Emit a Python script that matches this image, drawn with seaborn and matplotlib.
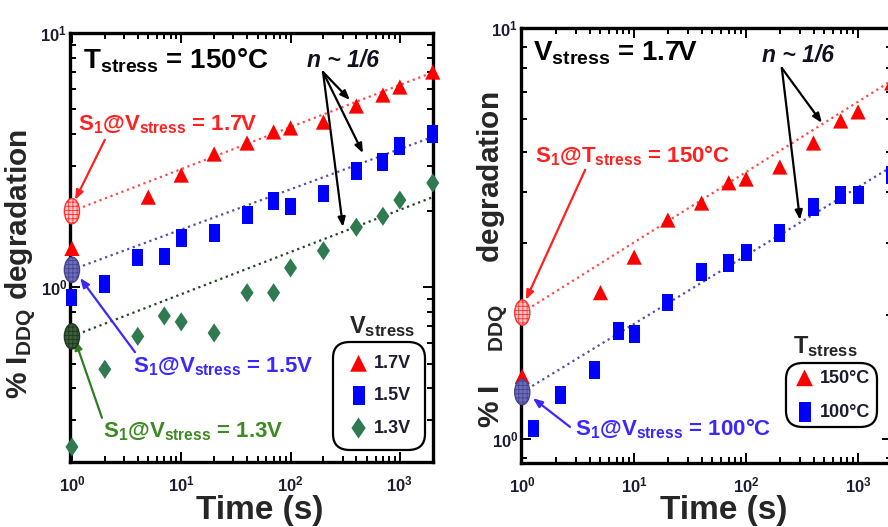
"""
plot.py

Two-panel log-log plot of % IDDQ degradation vs stress time, with n ~ 1/6
power-law fit lines for different stress voltages / temperatures.
"""

import pandas as pd
import matplotlib.pyplot as plt
import seaborn as sns
from matplotlib.path import Path
from matplotlib.transforms import Affine2D
from matplotlib.ticker import NullFormatter

# ---- left panel: T_stress = 150C ----
time_red_l = [1, 5, 10, 20, 40, 70, 100, 200, 400, 700, 1000, 2000]
deg_red_l = [1.42, 2.26, 2.76, 3.34, 3.69, 4.08, 4.23, 4.46, 5.16, 5.70, 6.13, 7.02]
time_sq_l = [1, 2, 4, 7, 10, 20, 40, 70, 100, 200, 400, 700, 1000, 2000]
deg_blue_l = [0.91, 1.03, 1.31, 1.32, 1.56, 1.63, 1.92, 2.18, 2.08, 2.34, 2.86, 3.10, 3.59, 4.00]
deg_green_l = [0.235, 0.475, 0.64, 0.77, 0.73, 0.66, 0.95, 0.95, 1.19, 1.39, 1.72, 1.90, 2.20, 2.57]
fit_time = [1, 2000]
fit_red_l = [1.99, 7.0]
fit_blue_l = [1.17, 3.9]
fit_green_l = [0.64, 2.26]
s1_left = [1.99, 1.17, 0.64]
labels_left = ["1.7V", "1.5V", "1.3V"]

# ---- right panel: V_stress = 1.7V ----
time_red_r = [1, 5, 10, 20, 40, 70, 100, 200, 400, 700, 1000, 2000]
deg_red_r = [1.42, 2.27, 2.77, 3.41, 3.75, 4.20, 4.29, 4.59, 5.25, 5.94, 6.25, 7.35]
time_blue_r = [1.25, 2.2, 4.4, 7.3, 10, 20, 40, 70, 100, 200, 400, 700, 1000, 2000]
deg_blue_r = [1.06, 1.28, 1.47, 1.83, 1.80, 2.15, 2.55, 2.68, 2.84, 3.17, 3.67, 3.92, 3.92, 4.39]
fit_red_r = [2.03, 7.45]
fit_blue_r = [1.30, 4.6]
s1_right = [2.03, 1.30]
labels_right = ["150°C", "100°C"]

x_ticks = [1, 10, 100, 1000]
x_ticklabels = [r"$10^{0}$", r"$10^{1}$", r"$10^{2}$", r"$10^{3}$"]
y_ticks = [1, 10]
y_ticklabels = [r"$10^{0}$", r"$10^{1}$"]

RED = "#ff0000"
BLUE = "#0000ff"
GREEN = "#2f7a50"

# custom marker shapes (tall rectangle, tall diamond, tall ellipse)
RECT = [(-0.62, -1), (0.62, -1), (0.62, 1), (-0.62, 1), (-0.62, -1)]
DIAMOND = [(0, 1), (0.68, 0), (0, -1), (-0.68, 0), (0, 1)]
ELLIPSE = Path.unit_circle().transformed(Affine2D().scale(0.6, 1.0))


# ====================
def style_axes(ax, xlim, ylim, ylabel):
    ax.set_xscale("log")
    ax.set_yscale("log")
    ax.set_xlim(*xlim)
    ax.set_ylim(*ylim)
    ax.set_xticks(x_ticks)
    ax.set_xticklabels(x_ticklabels)
    ax.set_yticks(y_ticks)
    ax.set_yticklabels(y_ticklabels)
    ax.xaxis.set_minor_formatter(NullFormatter())
    ax.yaxis.set_minor_formatter(NullFormatter())
    ax.tick_params(which="both", direction="in", top=True, right=True,
                   width=1.4, colors="black", labelcolor="#1c1c30",
                   labelsize=12)
    ax.tick_params(axis="x", which="major", pad=9)
    ax.tick_params(axis="y", which="major", pad=2)
    ax.tick_params(which="major", length=7)
    ax.tick_params(which="minor", length=4)
    for sp in ax.spines.values():
        sp.set_linewidth(2.4)
        sp.set_color("black")
    ax.set_xlabel("Time (s)", fontsize=24, fontweight="bold")
    ax.set_ylabel(ylabel, fontsize=21.5, fontweight="bold")


def fit_line(ax, y, color):
    sns.lineplot(x=fit_time, y=y, color=color, linestyle=":", lw=1.6,
                 ax=ax, legend=False, zorder=2)


def s1_marker(ax, y, face, edge):
    sns.scatterplot(x=[1] * len(y), y=y, marker=ELLIPSE, s=330,
                    facecolor=face, edgecolor=edge, linewidth=1.0,
                    hatch="++++", ax=ax, zorder=4, clip_on=False,
                    legend=False)


def points(ax, x, y, marker, color, s, label):
    sns.scatterplot(x=x, y=y, marker=marker, color=color, s=s,
                    edgecolor="none", ax=ax, zorder=3, clip_on=False,
                    label=label)


def arrow(ax, start, tip, color):
    ax.annotate("", xy=tip, xytext=start, xycoords="axes fraction",
                textcoords="axes fraction",
                arrowprops=dict(arrowstyle="-|>,head_length=0.55,head_width=0.22",
                                color=color, lw=1.6, shrinkA=0, shrinkB=0))


def label(ax, x, y, text, color, size):
    ax.text(x, y, text, transform=ax.transAxes, color=color, fontsize=size,
            fontweight="bold", va="baseline", ha="left")


def legend(ax, center, title, title_xy, spacing, pad):
    leg = ax.legend(loc="center", bbox_to_anchor=center, fontsize=13,
                    frameon=True, fancybox=True, edgecolor="black",
                    framealpha=1, handletextpad=0.2, labelspacing=spacing,
                    handlelength=1.3, borderpad=pad, borderaxespad=0,
                    markerscale=1.1)
    leg.get_frame().set_linewidth(1.6)
    leg.get_frame().set_boxstyle("round", pad=0, rounding_size=0.9)
    for t in leg.get_texts():
        t.set_fontweight("bold")
        t.set_color("#1c1c30")
    ax.text(title_xy[0], title_xy[1], title, transform=ax.transAxes,
            fontsize=17, fontweight="bold", ha="center", va="baseline")


# ====================
def main():
    sns.set_style("ticks")
    plt.rcParams["font.family"] = ["Liberation Sans", "DejaVu Sans"]
    plt.rcParams["mathtext.fontset"] = "custom"
    plt.rcParams["mathtext.rm"] = "Liberation Sans:bold"
    plt.rcParams["mathtext.it"] = "Liberation Sans:bold"
    plt.rcParams["mathtext.bf"] = "Liberation Sans:bold"
    plt.rcParams["mathtext.default"] = "rm"
    plt.rcParams["hatch.linewidth"] = 0.6

    fig = plt.figure(figsize=(8.88, 5.27), dpi=100)
    ax1 = fig.add_axes([70 / 888, 65 / 527, 363 / 888, 429 / 527])
    # right panel runs slightly past the figure edge, cropped like the source
    ax2 = fig.add_axes([521 / 888, 64 / 527, 371 / 888, 435 / 527])

    # ---- left panel ----
    style_axes(ax1, (0.96, 2010), (0.205, 10), r"% I$_{DDQ}$ degradation")
    fit_line(ax1, fit_red_l, "#ff4a4a")
    fit_line(ax1, fit_blue_l, "#5050a8")
    fit_line(ax1, fit_green_l, "#244224")
    points(ax1, time_red_l, deg_red_l, "^", RED, 120, labels_left[0])
    points(ax1, time_sq_l, deg_blue_l, RECT, BLUE, 160, labels_left[1])
    points(ax1, time_sq_l, deg_green_l, DIAMOND, GREEN, 190, labels_left[2])
    s1_marker(ax1, s1_left[:1], "#ffc8c8", "#ff3030")
    s1_marker(ax1, s1_left[1:2], "#6e6eb8", "#44448f")
    s1_marker(ax1, s1_left[2:], "#3c5c3c", "#1e3a1e")

    label(ax1, 0.036, 0.918, r"T$_{stress}$ = 150°C", "black", 20)
    ax1.text(0.653, 0.921, "n ~ 1/6", transform=ax1.transAxes, fontsize=16.5,
             fontweight="bold", fontstyle="italic", color="#101020")
    for tip in [(0.771, 0.844), (0.807, 0.720), (0.752, 0.548)]:
        arrow(ax1, (0.697, 0.909), tip, "black")

    label(ax1, 0.022, 0.774, r"S$_1$@V$_{stress}$ = 1.7V", "#ff2020", 16)
    arrow(ax1, (0.096, 0.751), (0.014, 0.611), "#ff2020")
    label(ax1, 0.174, 0.210, r"S$_1$@V$_{stress}$ = 1.5V", "#3a28ff", 16)
    arrow(ax1, (0.179, 0.256), (0.028, 0.429), "#3a28ff")
    label(ax1, 0.091, 0.058, r"S$_1$@V$_{stress}$ = 1.3V", "#3e8a22", 16)
    arrow(ax1, (0.088, 0.103), (0.014, 0.284), "#2e7d22")

    legend(ax1, (0.851, 0.154), r"V$_{stress}$", (0.860, 0.301), 0.85, 0.75)
    ax1.yaxis.set_label_coords(-0.088, 0.462)
    ax1.xaxis.set_label_coords(0.523, -0.076)

    # ---- right panel ----
    style_axes(ax2, (0.975, 2010), (0.874, 10),
               r"% I    $_{DDQ}$     degradation")
    fit_line(ax2, fit_red_r, "#ff4a4a")
    fit_line(ax2, fit_blue_r, "#5050a8")
    points(ax2, time_red_r, deg_red_r, "^", RED, 120, labels_right[0])
    points(ax2, time_blue_r, deg_blue_r, RECT, BLUE, 160, labels_right[1])
    s1_marker(ax2, s1_right[:1], "#ffc8c8", "#ff3030")
    s1_marker(ax2, s1_right[1:], "#6e6eb8", "#44448f")

    label(ax2, 0.032, 0.926, r"V$_{stress}$ = 1.7V", "black", 20)
    ax2.text(0.650, 0.922, "n ~ 1/6", transform=ax2.transAxes, fontsize=16.5,
             fontweight="bold", fontstyle="italic", color="#101020")
    for tip in [(0.811, 0.782), (0.752, 0.559)]:
        arrow(ax2, (0.703, 0.908), tip, "black")

    label(ax2, 0.038, 0.692, r"S$_1$@T$_{stress}$ = 150°C", "#ff2020", 16)
    arrow(ax2, (0.173, 0.674), (0.013, 0.375), "#ff2020")
    label(ax2, 0.146, 0.064, r"S$_1$@V$_{stress}$ = 100°C", "#3a28ff", 16)
    arrow(ax2, (0.132, 0.083), (0.032, 0.149), "#3a28ff")

    legend(ax2, (0.837, 0.156), r"T$_{stress}$", (0.819, 0.253), 0.95, 0.35)
    ax2.yaxis.set_label_coords(-0.03, 0.468)
    ax2.xaxis.set_label_coords(0.547, -0.073)

    fig.savefig("out.png", dpi=100)


# ====================
if __name__ == "__main__":

    main()
